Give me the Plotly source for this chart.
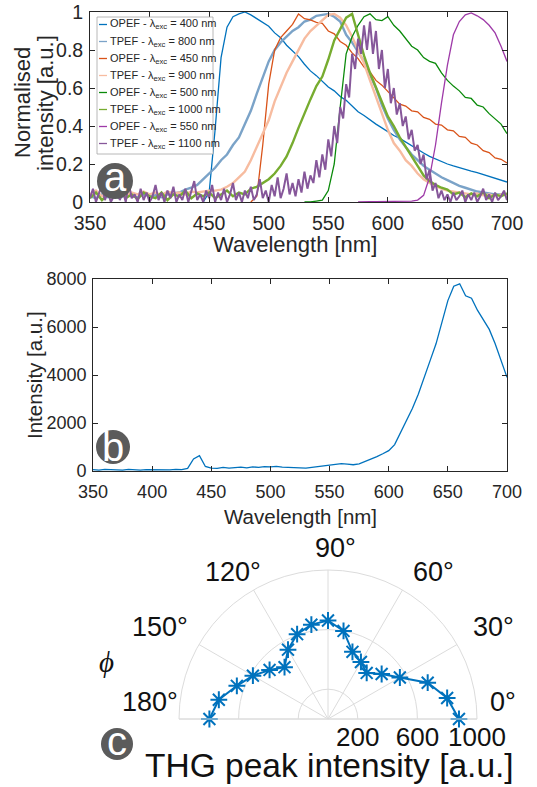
import plotly.graph_objects as go

# ---------------- data ----------------
wavelength = list(range(350, 705, 5))  # nm, 5 nm grid (71 points)
wavelength_fine = [350 + 2.5 * i for i in range(141)]  # nm, 2.5 nm grid

series_names = [
    "OPEF - λ<sub>exc</sub> = 400 nm",
    "TPEF - λ<sub>exc</sub> = 800 nm",
    "OPEF - λ<sub>exc</sub> = 450 nm",
    "TPEF - λ<sub>exc</sub> = 900 nm",
    "OPEF - λ<sub>exc</sub> = 500 nm",
    "TPEF - λ<sub>exc</sub> = 1000 nm",
    "OPEF - λ<sub>exc</sub> = 550 nm",
    "TPEF - λ<sub>exc</sub> = 1100 nm",
]

N = None
opef_400 = [N, N, N, N, N, N, N, N, N, N,
            N, N, N, N, N, N, N, N, N, 0.0,
            0.05, 0.38, 0.76, 0.92, 0.975, 0.99, 1.0, 0.985, 0.965, 0.945,
            0.925, 0.89, 0.865, 0.825, 0.795, 0.765, 0.725, 0.69, 0.665, 0.635,
            0.605, 0.585, 0.555, 0.535, 0.505, 0.475, 0.455, 0.43, 0.41, 0.39,
            0.37, 0.35, 0.335, 0.315, 0.295, 0.275, 0.258, 0.24, 0.227, 0.21,
            0.2, 0.19, 0.18, 0.172, 0.163, 0.155, 0.145, 0.137, 0.125, 0.117,
            0.105]
tpef_800 = [0.03, 0.02, 0.04, 0.025, 0.035, 0.02, 0.04, 0.03, 0.025, 0.04,
            0.03, 0.035, 0.025, 0.04, 0.045, 0.05, 0.065, 0.075, 0.09, 0.12,
            0.15, 0.18, 0.22, 0.25, 0.3, 0.34, 0.41, 0.48, 0.57, 0.66,
            0.74, 0.8, 0.84, 0.87, 0.9, 0.92, 0.95, 0.96, 0.98, 0.985,
            0.99, 0.975, 0.95, 0.88, 0.84, 0.79, 0.74, 0.67, 0.6, 0.51,
            0.44, 0.38, 0.33, 0.29, 0.25, 0.22, 0.19, 0.17, 0.15, 0.13,
            0.115, 0.1, 0.085, 0.075, 0.065, 0.055, 0.05, 0.045, 0.04, 0.04,
            0.035]
opef_450 = [N, N, N, N, N, N, N, N, N, N,
            N, N, N, N, N, N, N, N, N, N,
            N, N, N, N, N, N, N, 0.0, 0.03, 0.3,
            0.62, 0.8, 0.865, 0.9, 0.935, 0.99, 0.965, 0.958, 0.945, 0.94,
            0.9, 0.885, 0.845, 0.825, 0.785, 0.755, 0.71, 0.685, 0.64, 0.615,
            0.58, 0.55, 0.515, 0.505, 0.48, 0.475, 0.445, 0.435, 0.41, 0.405,
            0.38, 0.375, 0.345, 0.34, 0.31, 0.3, 0.27, 0.26, 0.232, 0.225,
            0.205]
tpef_900 = [0.04, 0.06, 0.03, 0.05, 0.04, 0.06, 0.035, 0.05, 0.04, 0.055,
            0.04, 0.05, 0.035, 0.055, 0.045, 0.05, 0.04, 0.055, 0.05, 0.055,
            0.06, 0.06, 0.065, 0.08, 0.1, 0.13, 0.16, 0.22, 0.29, 0.36,
            0.43, 0.53, 0.61, 0.68, 0.74, 0.8, 0.86, 0.9, 0.93, 0.96,
            0.985, 0.99, 0.97, 0.93, 0.87, 0.8, 0.73, 0.64, 0.55, 0.47,
            0.38, 0.31, 0.27, 0.22, 0.19, 0.15, 0.12, 0.1, 0.085, 0.07,
            0.06, 0.055, 0.05, 0.045, 0.04, 0.045, 0.035, 0.04, 0.03, 0.04,
            0.035]
opef_500 = [N, N, N, N, N, N, N, N, N, N,
            N, N, N, N, N, N, N, N, N, N,
            N, N, N, N, N, N, N, N, N, N,
            N, N, N, N, N, N, 0.0, 0.0, 0.005, 0.01,
            0.06, 0.2, 0.5, 0.78, 0.87, 0.93, 0.975, 0.99, 0.96, 0.955,
            0.975, 0.93, 0.9, 0.86, 0.82, 0.8, 0.76, 0.74, 0.73, 0.68,
            0.64, 0.61, 0.585, 0.55, 0.545, 0.51, 0.5, 0.465, 0.44, 0.41,
            0.36]
tpef_1000 = [0.02, 0.05, 0.01, 0.04, 0.03, 0.06, 0.02, 0.04, 0.015, 0.05,
             0.03, 0.02, 0.05, 0.01, 0.04, 0.03, 0.06, 0.02, 0.045, 0.03,
             0.05, 0.02, 0.04, 0.06, 0.03, 0.05, 0.04, 0.07, 0.08, 0.1,
             0.12, 0.15, 0.19, 0.24, 0.31, 0.39, 0.47, 0.54, 0.61, 0.66,
             0.75, 0.85, 0.91, 0.97, 0.99, 0.88, 0.77, 0.68, 0.6, 0.52,
             0.45, 0.4, 0.34, 0.29, 0.24, 0.19, 0.14, 0.11, 0.09, 0.075,
             0.065, 0.04, 0.05, 0.025, 0.045, 0.03, 0.05, 0.02, 0.04, 0.03,
             0.045]
opef_550 = [N, N, N, N, N, N, N, N, N, N,
            N, N, N, N, N, N, N, N, N, N,
            N, N, N, N, N, N, N, N, N, N,
            N, N, N, N, N, N, N, N, N, N,
            N, N, N, N, N, 0.0, 0.002, 0.002, 0.002, 0.002,
            0.002, 0.002, 0.002, 0.003, 0.005, 0.01, 0.035, 0.13, 0.3, 0.52,
            0.72, 0.88, 0.95, 0.985, 0.995, 0.98, 0.96, 0.93, 0.89, 0.82,
            0.74]
# TPEF 1100 nm read on the finer 2.5 nm grid (very noisy trace)
tpef_1100 = [0.02, 0.07, 0.0, 0.04, 0.09, 0.01, 0.05, 0.0, 0.03, 0.08,
             0.01, 0.06, 0.0, 0.1, 0.02, 0.04, 0.0, 0.07, 0.01, 0.05,
             0.0, 0.03, 0.09, 0.01, 0.05, 0.0, 0.06, 0.02, 0.08, 0.0,
             0.04, 0.01, 0.07, 0.0, 0.05, 0.11, 0.01, 0.04, 0.0, 0.06,
             0.02, 0.09, 0.0, 0.05, 0.01, 0.07, 0.0, 0.04, 0.1, 0.01,
             0.05, 0.0, 0.06, 0.02, 0.08, 0.01, 0.04, 0.12, 0.02, 0.06,
             0.0, 0.09, 0.03, 0.13, 0.02, 0.07, 0.15, 0.04, 0.1, 0.03,
             0.12,
             0.05, 0.16, 0.07, 0.14, 0.1, 0.22, 0.13, 0.25, 0.17, 0.33,
             0.24, 0.4, 0.31, 0.5, 0.44, 0.62, 0.55, 0.78, 0.7, 0.86,
             0.78, 0.93, 0.8, 0.95, 0.78, 0.9, 0.7, 0.8, 0.6, 0.7,
             0.52, 0.6, 0.46, 0.52, 0.4, 0.45, 0.33, 0.38, 0.27, 0.3,
             0.2, 0.25, 0.12, 0.17, 0.06, 0.1, 0.02, 0.06, 0.01, 0.04,
             0.0, 0.05, 0.01, 0.03, 0.06, 0.0, 0.04, 0.01, 0.05, 0.0,
             0.03, 0.07, 0.01, 0.04, 0.0, 0.05, 0.01, 0.03, 0.06, 0.01]

series_x = [wavelength] * 7 + [wavelength_fine]
series_values = [opef_400, tpef_800, opef_450, tpef_900,
                 opef_500, tpef_1000, opef_550, tpef_1100]
series_colors = ["#0072BD", "#7BA3C8", "#D95319", "#F7BCA0",
                 "#0A8A0A", "#77AC30", "#9E3AA8", "#86579A"]
series_widths = [1.3, 2.4, 1.3, 2.4, 1.3, 2.4, 1.3, 2.0]

intensity_b = [60, 40, 70, 50, 60, 40, 70, 50, 40, 60,
               50, 40, 60, 50, 70, 60, 110, 500, 640, 190,
               120, 110, 150, 120, 140, 160, 130, 170, 150, 180,
               170, 190, 160, 150, 130, 110, 120, 150, 180, 220,
               250, 270, 310, 290, 260, 300, 400, 480, 600, 720,
               850, 1100, 1600, 2150, 2600, 3200, 3950, 4600, 5300, 6200,
               7100, 7700, 7800, 7300, 7200, 6700, 6300, 5900, 5300, 4600,
               3900]

phi_deg = [0, 10, 20, 30, 40, 50, 60, 70, 80, 90,
           100, 110, 120, 130, 140, 150, 160, 170, 180]
thg_intensity = [879, 812, 712, 557, 470, 404, 442, 480, 600, 661,
                 643, 606, 537, 454, 512, 582, 651, 744, 796]

x_ticks = [350, 400, 450, 500, 550, 600, 650, 700]
ya_ticks = [0, 0.2, 0.4, 0.6, 0.8, 1]
ya_ticktext = ["0", "0.2", "0.4", "0.6", "0.8", "1"]
yb_ticks = [0, 2000, 4000, 6000, 8000]
angle_ticks = [0, 30, 60, 90, 120, 150, 180]
angle_ticktext = ["0°", "30°", "60°", "90°", "120°", "150°", "180°"]
radial_ticks = [200, 600, 1000]

# ---------------- layout helpers ----------------
W, H = 537, 787
FONT = "Liberation Sans"
AX = "#262626"
POL = "#111111"


def px(x):
    return x / W


def py(y):
    return 1 - y / H


fig = go.Figure()

for xs, vals, col, lw in zip(series_x, series_values, series_colors, series_widths):
    fig.add_trace(go.Scatter(x=xs, y=vals, mode="lines",
                             line=dict(color=col, width=lw),
                             xaxis="x", yaxis="y", showlegend=False,
                             hoverinfo="skip"))

fig.add_trace(go.Scatter(x=wavelength, y=intensity_b, mode="lines",
                         line=dict(color="#0072BD", width=1.3),
                         xaxis="x2", yaxis="y2", showlegend=False))

fig.add_trace(go.Scatterpolar(theta=phi_deg, r=thg_intensity,
                              mode="lines+markers",
                              line=dict(color="#0072BD", width=2),
                              marker=dict(symbol="asterisk-open", size=14,
                                          color="#0072BD",
                                          line=dict(color="#0072BD", width=2)),
                              subplot="polar", showlegend=False))

axis_common = dict(showline=True, linecolor=AX, linewidth=0.9, mirror="ticks",
                   ticks="inside", ticklen=5, tickcolor=AX, tickwidth=0.9,
                   showgrid=False, zeroline=False, automargin=False)

fig.update_layout(
    width=W, height=H, margin=dict(l=0, r=0, t=0, b=0, pad=0),
    paper_bgcolor="white", plot_bgcolor="white", showlegend=False,
    font=dict(family=FONT, color=AX),
    xaxis=dict(domain=[px(90), px(507)], anchor="y", range=[350, 700],
               tickvals=x_ticks, tickfont=dict(size=19.5),
               ticklabelstandoff=4, **axis_common),
    yaxis=dict(domain=[py(202), py(12)], anchor="x", range=[0, 1],
               tickvals=ya_ticks, ticktext=ya_ticktext,
               tickfont=dict(size=19.5), ticklabelstandoff=2, **axis_common),
    xaxis2=dict(domain=[px(93), px(507)], anchor="y2", range=[350, 700],
                tickvals=x_ticks, tickfont=dict(size=18),
                ticklabelstandoff=4, **axis_common),
    yaxis2=dict(domain=[py(471), py(279)], anchor="x2", range=[0, 8000],
                tickvals=yb_ticks, tickfont=dict(size=18),
                ticklabelstandoff=2, **axis_common),
    polar=dict(
        domain=dict(x=[px(179), px(477)], y=[py(719), py(570)]),
        sector=[0, 180], bgcolor="white",
        radialaxis=dict(range=[0, 1000], tickvals=radial_ticks,
                        showline=False, ticks="", angle=0, side="clockwise",
                        gridcolor="#dcdcdc", gridwidth=1,
                        tickfont=dict(size=26, color=POL)),
        angularaxis=dict(tickvals=angle_ticks, ticktext=angle_ticktext,
                         direction="counterclockwise", rotation=0,
                         showline=True, linecolor="#dcdcdc", linewidth=1,
                         gridcolor="#dcdcdc", gridwidth=1, ticks="",
                         showticklabels=False),
    ),
)

shapes = []
annotations = []

# axis titles
annotations += [
    dict(x=px(23), y=py(103), text="Normalised", textangle=-90,
         font=dict(size=22, color=AX)),
    dict(x=px(46), y=py(103), text="intensity [a.u.]", textangle=-90,
         font=dict(size=22, color=AX)),
    dict(x=px(295), y=py(244), text="Wavelength [nm]",
         font=dict(size=22, color=AX)),
    dict(x=px(34), y=py(375), text="Intensity [a.u.]", textangle=-90,
         font=dict(size=20.5, color=AX)),
    dict(x=px(300), y=py(516), text="Wavelength [nm]",
         font=dict(size=20.5, color=AX)),
    dict(x=px(106), y=py(662), text="<i>ϕ</i>",
         font=dict(size=29, color=POL, family="Liberation Serif")),
    dict(x=px(329), y=py(765), text="THG peak intensity [a.u.]",
         font=dict(size=33.5, color=POL)),
]

# angular tick labels of the polar panel, placed as in the reference
angle_label_pos = [(503, 702), (493, 627), (433, 572), (335, 548),
                   (233, 572), (160, 627), (150, 702)]
for txt, (lx, ly) in zip(angle_ticktext, angle_label_pos):
    annotations.append(dict(x=px(lx), y=py(ly), text=txt,
                            font=dict(size=27, color=POL)))

# legend (panel a)
shapes.append(dict(type="rect", xref="paper", yref="paper",
                   x0=px(97), x1=px(213), y0=py(154), y1=py(17),
                   fillcolor="white", line=dict(color="#a6a6a6", width=0.8)))
for i, (name, col) in enumerate(zip(series_names, series_colors)):
    yrow = 24.5 + 17 * i
    shapes.append(dict(type="line", xref="paper", yref="paper",
                       x0=px(99), x1=px(107), y0=py(yrow), y1=py(yrow),
                       line=dict(color=col, width=1.3)))
    annotations.append(dict(x=px(108), y=py(yrow), text=name,
                            xanchor="left", font=dict(size=11, color=AX)))

# panel badges
for letter, cx, cy, r, dy in [("a", 115, 181, 18, -4), ("b", 113, 447, 17, 0),
                              ("c", 117, 744, 16, -3)]:
    shapes.append(dict(type="circle", xref="paper", yref="paper",
                       x0=px(cx - r), x1=px(cx + r), y0=py(cy + r), y1=py(cy - r),
                       fillcolor="#5b5b5b", line=dict(width=0)))
    annotations.append(dict(x=px(cx), y=py(cy + dy), text=letter,
                            font=dict(size=40, color="white")))

for a in annotations:
    a.setdefault("xref", "paper")
    a.setdefault("yref", "paper")
    a.setdefault("showarrow", False)
    a.setdefault("xanchor", "center")
    a.setdefault("yanchor", "middle")

fig.update_layout(shapes=shapes, annotations=annotations)

fig.write_html("out.html",
               config={"displayModeBar": False},
               post_script="document.body.style.margin='0px';"
                           "document.body.style.overflow='hidden';")
